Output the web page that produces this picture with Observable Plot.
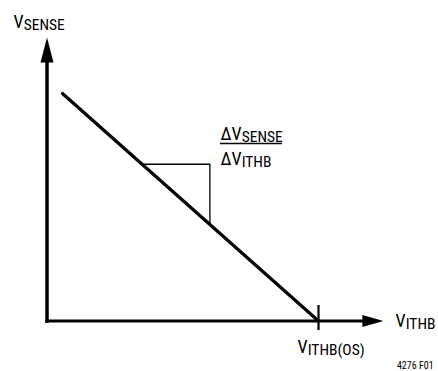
<!DOCTYPE html>
<html>
<head>
<meta charset="utf-8">
<script src="https://cdn.jsdelivr.net/npm/d3@7"></script>
<script src="https://cdn.jsdelivr.net/npm/@observablehq/plot@0.6"></script>
<style>
  html, body { margin: 0; padding: 0; background: #fff; }
</style>
</head>
<body>
<div id="chart"></div>
<script>
// Chart coordinates: origin at the axes corner, V_ITHB(OS) at x = 100, line start at y = 100
const responseLine = [ {x: 5.7, y: 100}, {x: 100, y: 0} ];
const slopeTriangle = [ {x: 35, y: 68.9}, {x: 60, y: 68.9}, {x: 60, y: 42.4} ];
const yAxisLine = [ {x: 0, y: 0}, {x: 0, y: 113.6} ];
const xAxisLine = [ {x: 0, y: 0}, {x: 116.6, y: 0} ];
const yArrowTip = [ {x: 0, y: 124.6} ];
const xArrowTip = [ {x: 123.9, y: 0} ];
const osTick = [ {x: 100, y1: -4.2, y2: 6.8} ];
const fractionBar = [ {x1: 63.9, x2: 86.7, y: 78.0} ];
const labels = [
  {text: "V_SENSE", x: -12.3, y: 128.6},
  {text: "V_ITHB", x: 128.4, y: -2.8},
  {text: "V_ITHB(OS)", x: 92.3, y: -13.9},
  {text: "ΔV_SENSE", x: 63.9, y: 79.6},
  {text: "ΔV_ITHB", x: 63.9, y: 68.4}
];
const figureId = [ {text: "4276 F01", x: 142.4, y: -21.3} ];

const FONT = "'Liberation Sans Narrow', 'Arial Narrow', 'Roboto Condensed', sans-serif";

function head(len, w, dir) {
  return {
    draw(ctx) {
      if (dir === "up") {
        ctx.moveTo(0, 0); ctx.lineTo(w / 2, len); ctx.lineTo(-w / 2, len); ctx.closePath();
      } else {
        ctx.moveTo(0, 0); ctx.lineTo(-len, w / 2); ctx.lineTo(-len, -w / 2); ctx.closePath();
      }
    }
  };
}

const plot = Plot.plot({
  width: 438,
  height: 371,
  margin: 0,
  x: {domain: [0, 100], range: [46.5, 318], axis: null},
  y: {domain: [0, 100], range: [320.5, 93], axis: null},
  style: {fontFamily: FONT, background: "#fff", color: "#000"},
  marks: [
    Plot.line(yAxisLine, {x: "x", y: "y", stroke: "#000", strokeWidth: 3.5, strokeLinecap: "square"}),
    Plot.line(xAxisLine, {x: "x", y: "y", stroke: "#000", strokeWidth: 3.2, strokeLinecap: "square"}),
    Plot.dot(yArrowTip, {x: "x", y: "y", symbol: head(25, 13, "up"), fill: "#000", stroke: null}),
    Plot.dot(xArrowTip, {x: "x", y: "y", symbol: head(21, 12, "right"), fill: "#000", stroke: null}),
    Plot.line(slopeTriangle, {x: "x", y: "y", stroke: "#000", strokeWidth: 1.3}),
    Plot.line(responseLine, {x: "x", y: "y", stroke: "#000", strokeWidth: 3.2}),
    Plot.ruleX(osTick, {x: "x", y1: "y1", y2: "y2", stroke: "#000", strokeWidth: 2.2}),
    Plot.ruleY(fractionBar, {x1: "x1", x2: "x2", y: "y", stroke: "#000", strokeWidth: 1.4}),
    Plot.text(labels, {x: "x", y: "y", text: "text", textAnchor: "start", lineAnchor: "bottom", fontSize: 18, fill: "#000"}),
    Plot.text(figureId, {x: "x", y: "y", text: "text", textAnchor: "end", lineAnchor: "bottom", fontSize: 10, fill: "#000"})
  ]
});

// turn "V_SUB" into V with a subscript tspan
const NS = "http://www.w3.org/2000/svg";
plot.querySelectorAll("text").forEach(t => {
  const s = t.textContent;
  if (!s.includes("_")) return;
  const [main, sub] = s.split("_");
  t.textContent = "";
  const a = document.createElementNS(NS, "tspan");
  a.textContent = main;
  const b = document.createElementNS(NS, "tspan");
  b.textContent = sub;
  b.setAttribute("font-size", "15.5");
  b.setAttribute("dy", "2");
  t.append(a, b);
});

document.getElementById("chart").append(plot);
</script>
</body>
</html>
